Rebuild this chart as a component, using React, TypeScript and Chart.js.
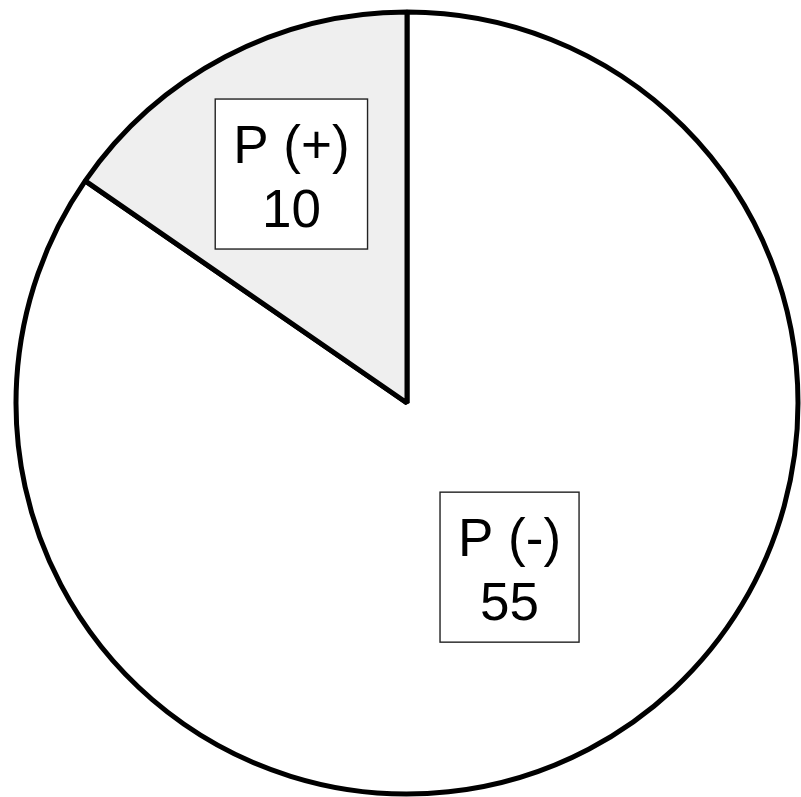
import React, { useEffect, useRef } from "react";
import { Chart, registerables } from "chart.js";

Chart.register(...registerables);

const categories = ["P (-)", "P (+)"];
const values = [55, 10];
const sliceColors = ["#ffffff", "#efefef"];
// label placement: fraction of radius and small angular nudge (degrees)
const labelRadialFraction = [0.495, 0.656];
const labelAngleNudge = [-4.3, 0.9];

const FONT = '53px "Liberation Sans", Arial, sans-serif';

const boxLabelPlugin = {
  id: "boxLabels",
  afterDraw(chart: any) {
    const ctx = chart.ctx as CanvasRenderingContext2D;
    const meta = chart.getDatasetMeta(0);
    meta.data.forEach((arc: any, i: number) => {
      const { x, y, startAngle, endAngle, outerRadius } = arc.getProps(
        ["x", "y", "startAngle", "endAngle", "outerRadius"],
        true
      );
      const mid = (startAngle + endAngle) / 2 + (labelAngleNudge[i] * Math.PI) / 180;
      const r = outerRadius * labelRadialFraction[i];
      const cx = x + Math.cos(mid) * r;
      const cy = y + Math.sin(mid) * r;
      const lines = [categories[i], String(values[i])];
      ctx.save();
      ctx.font = FONT;
      const w = Math.max(...lines.map((l) => ctx.measureText(l).width)) + 36;
      const h = 150;
      ctx.fillStyle = "#ffffff";
      ctx.fillRect(cx - w / 2, cy - h / 2, w, h);
      ctx.strokeStyle = "#222222";
      ctx.lineWidth = 1.4;
      ctx.strokeRect(cx - w / 2, cy - h / 2, w, h);
      ctx.fillStyle = "#000000";
      ctx.textAlign = "center";
      ctx.textBaseline = "alphabetic";
      ctx.fillText(lines[0], cx, cy - 11);
      ctx.fillText(lines[1], cx, cy + 53);
      ctx.restore();
    });
  },
};

export default function App() {
  const ref = useRef<HTMLCanvasElement | null>(null);
  useEffect(() => {
    if (!ref.current) return;
    const chart = new Chart(ref.current, {
      type: "pie",
      data: {
        labels: categories,
        datasets: [
          {
            data: values,
            backgroundColor: sliceColors,
            borderColor: "#000000",
            borderWidth: 5,
          },
        ],
      },
      options: {
        responsive: false,
        animation: false,
        radius: 391,
        layout: { padding: { left: 13, top: 9, right: 0, bottom: 0 } },
        plugins: {
          legend: { display: false },
          tooltip: { enabled: false },
        },
      } as any,
      plugins: [boxLabelPlugin],
    });
    return () => chart.destroy();
  }, []);
  return (
    <div style={{ position: "fixed", left: 0, top: 0, width: 801, height: 797, background: "#fff" }}>
      <canvas ref={ref} width={801} height={797} style={{ display: "block" }} />
    </div>
  );
}
